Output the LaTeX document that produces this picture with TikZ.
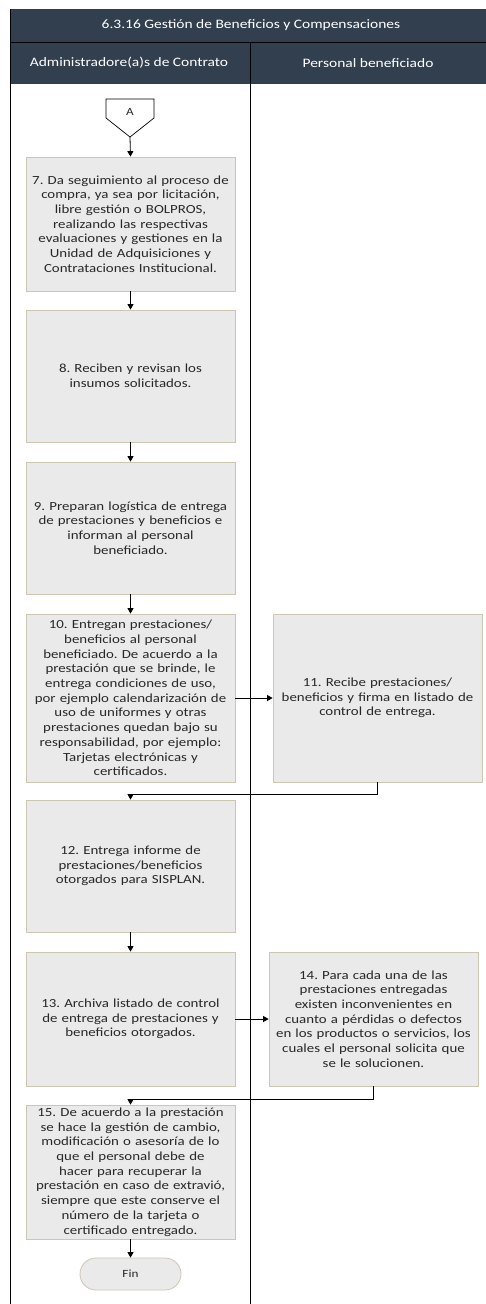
\documentclass[tikz,border=0pt]{standalone}
\usepackage{fontspec}
\setmainfont{Carlito}[FakeStretch=1.2]
\usetikzlibrary{arrows.meta,calc}
\frenchspacing
\definecolor{hdr}{RGB}{50,63,79}
\definecolor{boxfill}{RGB}{234,234,234}
\definecolor{boxline}{RGB}{205,198,178}
\definecolor{txt}{RGB}{40,40,40}
\tikzset{
  stepbox/.style={draw=boxline, fill=boxfill, line width=0.8pt, minimum width=209pt, align=center, text width=207pt, inner sep=1pt, font=\fontsize{12.4}{14.7}\selectfont, text=txt},
  endbox/.style={draw=boxline, fill=boxfill, line width=0.8pt, rounded corners=16pt, minimum width=101pt, minimum height=32pt, font=\fontsize{11}{13}\selectfont, text=txt},
  arr/.style={draw=black, line width=0.8pt, -{Triangle[length=5.5pt,width=6pt]}},
  hdrtext/.style={text=white, font=\fontsize{12.9}{15}\selectfont}
}
\begin{document}
\begin{tikzpicture}[x=1pt,y=1pt]
\useasboundingbox (0,0) rectangle (486,-1304);
\fill[white] (0,0) rectangle (486,-1304);
% title bar
\fill[hdr] (10,-9) rectangle (486,-84);
\draw[black, line width=0.8pt] (10,-42) -- (486,-42);
\node[hdrtext] (title) at (251,-25.5) {6.3.16 Gestión de Beneficios y Compensaciones};
\node[hdrtext] (lane1) at (129,-63) {Administradore(a)s de Contrato};
\node[hdrtext] (lane2) at (368,-63) {Personal beneficiado};
% lane lines
\draw[black, line width=1.2pt] (10.5,-9) -- (10.5,-1304);
\draw[black, line width=0.9pt] (250,-42) -- (250,-1304);
% connector A
\draw[black, line width=0.7pt, fill=white] (106,-99) -- (154,-99) -- (154,-118) -- (130,-137) -- (106,-118) -- cycle;
\node[font=\fontsize{11}{13}\selectfont, text=txt] (A) at (130,-112) {A};
\coordinate (Atip) at (130,-137);
% boxes
\node[stepbox, minimum height=134pt] (b7) at (130.5,-224) {7. Da seguimiento al proceso de\\ compra, ya sea por licitación,\\ libre gestión o BOLPROS,\\ realizando las respectivas\\ evaluaciones y gestiones en la\\ Unidad de Adquisiciones y\\ Contrataciones Institucional.};
\node[stepbox, minimum height=132pt] (b8) at (130.5,-376) {8. Reciben y revisan los\\ insumos solicitados.};
\node[stepbox, minimum height=132pt] (b9) at (130.5,-528) {9. Preparan logística de entrega\\ de prestaciones y beneficios e\\ informan al personal\\ beneficiado.};
\node[stepbox, minimum height=168pt] (b10) at (130.5,-698) {10. Entregan prestaciones/\\ beneficios al personal\\ beneficiado. De acuerdo a la\\ prestación que se brinde, le\\ entrega condiciones de uso,\\ por ejemplo calendarización de\\ uso de uniformes y otras\\ prestaciones quedan bajo su\\ responsabilidad, por ejemplo:\\ Tarjetas electrónicas y\\ certificados.};
\node[stepbox, minimum height=168pt] (b11) at (377.5,-698) {11. Recibe prestaciones/\\ beneficios y firma en listado de\\ control de entrega.};
\node[stepbox, minimum height=132pt] (b12) at (130.5,-866) {12. Entrega informe de\\ prestaciones/beneficios\\ otorgados para SISPLAN.};
\node[stepbox, minimum height=134pt] (b13) at (130.5,-1019) {13. Archiva listado de control\\ de entrega de prestaciones y\\ beneficios otorgados.};
\node[stepbox, minimum height=134pt] (b14) at (373.5,-1019) {14. Para cada una de las\\ prestaciones entregadas\\ existen inconvenientes en\\ cuanto a pérdidas o defectos\\ en los productos o servicios, los\\ cuales el personal solicita que\\ se le solucionen.};
\node[stepbox, minimum height=134pt] (b15) at (130.5,-1172) {15. De acuerdo a la prestación\\ se hace la gestión de cambio,\\ modificación o asesoría de lo\\ que el personal debe de\\ hacer para recuperar la\\ prestación en caso de extravió,\\ siempre que este conserve el\\ número de la tarjeta o\\ certificado entregado.};
\node[endbox] (fin) at (130.5,-1274) {Fin};
% connectors
\draw[arr] (Atip) -- (b7.north);
\draw[arr] (b7.south) -- (b8.north);
\draw[arr] (b8.south) -- (b9.north);
\draw[arr] (b9.south) -- (b10.north);
\draw[arr] (b10.east) -- (b11.west);
\draw[arr] (b11.south) -- ++(0,-12) -| (b12.north);
\draw[arr] (b12.south) -- (b13.north);
\draw[arr] (b13.east) -- (b14.west);
\draw[arr] (b14.south) -- ++(0,-13) -| (b15.north);
\draw[arr] (b15.south) -- (fin.north);
\end{tikzpicture}
\end{document}
